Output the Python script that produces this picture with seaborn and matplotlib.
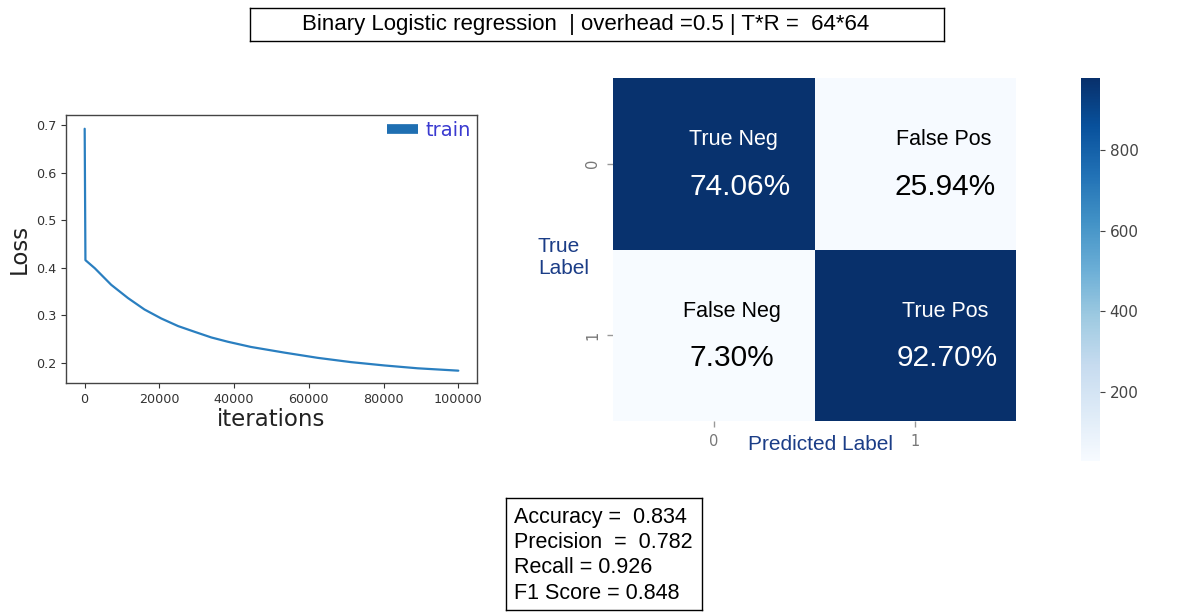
import numpy as np
import pandas as pd
import matplotlib
matplotlib.use("Agg")
import matplotlib.pyplot as plt
from matplotlib.lines import Line2D
import seaborn as sns

# Training loss recorded along the optimisation run
iterations = [0, 200, 2700, 7100, 11600, 16000, 20500, 25000, 29400, 33900,
              38300, 44500, 53500, 62400, 71300, 80200, 89100, 100000]
loss = [0.693, 0.416, 0.399, 0.364, 0.336, 0.312, 0.293, 0.277, 0.265, 0.253,
        0.244, 0.233, 0.221, 0.210, 0.201, 0.194, 0.188, 0.183]

# Confusion matrix (counts drive the colour scale)
class_labels = ["0", "1"]
cm_counts = [[971, 34],
             [28, 979]]
cell_names = [["True Neg", "False Pos"],
              ["False Neg", "True Pos"]]
cell_percents = [[74.06, 25.94],
                 [7.30, 92.70]]

# Summary metrics
metric_names = ["Accuracy =  ", "Precision  =  ", "Recall = ", "F1 Score = "]
metric_values = [0.834, 0.782, 0.926, 0.848]

title_text = "Binary Logistic regression  | overhead =0.5 | T*R =  64*64"

sns.set_theme(style="white")
plt.rcParams["font.family"] = ["DejaVu Sans"]
ARIAL = ["Liberation Sans", "DejaVu Sans"]
NAVY = "#1b3d87"

W, H = 1184, 612
fig = plt.figure(figsize=(W / 100, H / 100), dpi=100)
fig.patch.set_facecolor("white")


def px_axes(left, top, right, bottom):
    return fig.add_axes([left / W, 1 - bottom / H, (right - left) / W, (bottom - top) / H])


# ---- title box ----
ax_t = px_axes(250, 8, 944, 41)
ax_t.set_xticks([]); ax_t.set_yticks([])
for s in ax_t.spines.values():
    s.set_color("black"); s.set_linewidth(1.0); s.set_visible(True)
ax_t.text(0.483, 0.5, title_text, ha="center", va="center", fontsize=16,
          family=ARIAL, color="black", transform=ax_t.transAxes)

# ---- loss curve ----
ax_l = px_axes(66, 115, 477, 383)
df_loss = pd.DataFrame({"iterations": iterations, "loss": loss})
sns.lineplot(data=df_loss, x="iterations", y="loss", ax=ax_l, color="#2a7fc0",
             linewidth=1.6, legend=False)
ax_l.set_xlim(-5000, 105000)
ax_l.set_ylim(0.157, 0.722)
ax_l.set_xticks([0, 20000, 40000, 60000, 80000, 100000])
ax_l.set_yticks([0.2, 0.3, 0.4, 0.5, 0.6, 0.7])
ax_l.set_yticklabels(["0.2", "0.3", "0.4", "0.5", "0.6", "0.7"])
ax_l.tick_params(axis="both", labelsize=9.2, colors="#333333", length=3.5,
                 width=0.8, direction="out", bottom=True, left=True)
for s in ax_l.spines.values():
    s.set_color("#444444"); s.set_linewidth(1.0); s.set_visible(True)
ax_l.set_xlabel("iterations", fontsize=16.5, color="#222222", labelpad=2)
ax_l.set_ylabel("Loss", fontsize=16.5, color="#222222", labelpad=4)
handle = Line2D([0], [0], color="#1f6fb2", linewidth=7, solid_capstyle="butt")
ax_l.legend([handle], ["train"], loc="upper right", frameon=False, fontsize=14,
            labelcolor="#3a3ad0", handlelength=1.6, handletextpad=0.4,
            borderaxespad=0.1, borderpad=0.2)

# ---- confusion matrix ----
ax_h = px_axes(613, 78, 1016, 421)
ax_c = px_axes(1081, 78, 1100, 461)
cm_df = pd.DataFrame(cm_counts, index=class_labels, columns=class_labels)
sns.heatmap(cm_df, cmap="Blues", ax=ax_h, cbar_ax=ax_c, annot=False)
ax_c.tick_params(labelsize=11, colors="#444444", length=3.5, width=0.8)

name_dx = [[0.60, 0.64], [0.59, 0.65]]
pct_dx = [[0.63, 0.65], [0.59, 0.66]]
threshold = (max(map(max, cm_counts)) + min(map(min, cm_counts))) / 2
for i in range(2):
    for j in range(2):
        col = "white" if cm_counts[i][j] > threshold else "black"
        ax_h.text(j + name_dx[i][j], i + 0.36, cell_names[i][j], ha="center",
                  va="center", fontsize=15.5, family=ARIAL, color=col)
        ax_h.text(j + pct_dx[i][j], i + 0.635, f"{cell_percents[i][j]:.2f}%",
                  ha="center", va="center", fontsize=21.5, family=ARIAL, color=col)

ax_h.set_xlabel(""); ax_h.set_ylabel("")
ax_h.set_xticks([0.5, 1.5]); ax_h.set_yticks([0.5, 1.5])
ax_h.set_xticklabels(class_labels, fontsize=10.5)
ax_h.set_yticklabels(class_labels, fontsize=10.5, rotation=90, va="center")
ax_h.tick_params(axis="both", length=4, width=1.0, colors="#999999",
                 bottom=True, left=True, pad=5)
for t in ax_h.get_xticklabels() + ax_h.get_yticklabels():
    t.set_color("#777777")

fig.text(820 / W, 1 - 445 / H, "Predicted Label", ha="center", va="center",
         fontsize=15, family=ARIAL, color=NAVY)
fig.text(538 / W, 1 - 257 / H, "True\nLabel", ha="left", va="center",
         fontsize=15, family=ARIAL, color=NAVY, linespacing=1.2)

# ---- metrics box ----
ax_m = px_axes(506, 498, 702, 610)
ax_m.set_xticks([]); ax_m.set_yticks([])
for s in ax_m.spines.values():
    s.set_color("black"); s.set_linewidth(1.0); s.set_visible(True)
line_y = [0.83, 0.605, 0.38, 0.15]
for name, val, y in zip(metric_names, metric_values, line_y):
    ax_m.text(0.041, y, f"{name}{val:.3f}", ha="left", va="center",
              fontsize=15.5, family=ARIAL, color="black", transform=ax_m.transAxes)

fig.savefig("out.png", dpi=100, facecolor="white")
